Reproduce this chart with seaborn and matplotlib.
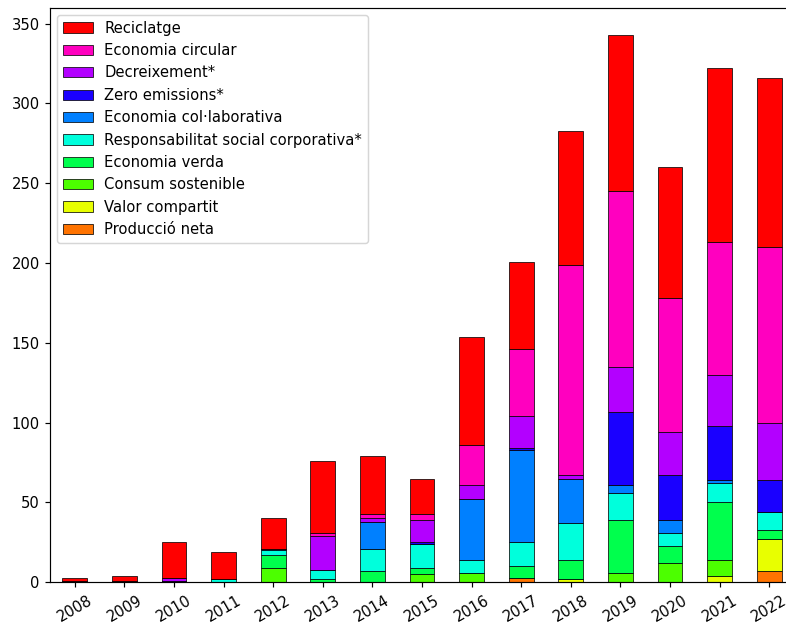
import numpy as np
import pandas as pd
import matplotlib
matplotlib.use("Agg")
import matplotlib.pyplot as plt
from matplotlib.patches import Patch
import seaborn as sns

years = [str(y) for y in range(2008, 2023)]

# stacking order (bottom -> top)
produccio_neta   = [0, 0, 0, 0, 0, 0, 0, 0, 0, 3, 0, 0, 0, 0, 7]
valor_compartit  = [0, 0, 0, 0, 0, 0, 0, 0, 0, 0, 2, 0, 0, 4, 20]
consum_sost      = [0, 0, 1, 0, 9, 0, 0, 5, 6, 0, 0, 6, 12, 10, 0]
economia_verda   = [0, 0, 0, 0, 8, 2, 7, 4, 0, 7, 12, 33, 11, 36, 6]
rsc              = [0, 0, 0, 2, 3, 6, 14, 15, 8, 15, 23, 17, 8, 12, 11]
colaborativa     = [0, 0, 0, 0, 1, 0, 17, 0, 38, 58, 28, 5, 8, 2, 0]
zero_emissions   = [0, 0, 0, 0, 0, 0, 0, 1, 0, 1, 0, 46, 28, 34, 20]
decreixement     = [1, 1, 2, 0, 0, 21, 2, 14, 9, 20, 2, 28, 27, 32, 36]
economia_circ    = [0, 0, 0, 0, 0, 2, 3, 4, 25, 42, 132, 110, 84, 83, 110]
reciclatge       = [2, 3, 22, 17, 19, 45, 36, 22, 68, 55, 84, 98, 82, 109, 106]

series_names = ["Producció neta", "Valor compartit", "Consum sostenible",
                "Economia verda", "Responsabilitat social corporativa*",
                "Economia col·laborativa", "Zero emissions*", "Decreixement*",
                "Economia circular", "Reciclatge"]
series_vals = [produccio_neta, valor_compartit, consum_sost, economia_verda, rsc,
               colaborativa, zero_emissions, decreixement, economia_circ, reciclatge]

colors = {
    "Reciclatge": "#ff0000",
    "Economia circular": "#ff00bf",
    "Decreixement*": "#b300ff",
    "Zero emissions*": "#1a00ff",
    "Economia col·laborativa": "#0080ff",
    "Responsabilitat social corporativa*": "#00ffdc",
    "Economia verda": "#00ff4d",
    "Consum sostenible": "#4cff00",
    "Valor compartit": "#e8ff00",
    "Producció neta": "#ff7300",
}

W, H = 786, 623
DPI = 106
fig = plt.figure(figsize=(W / DPI, H / DPI), dpi=DPI)
ax = fig.add_axes([50 / W, (H - 582.3) / H, 744 / W, (582.3 - 7.5) / H])

bottom = np.zeros(len(years))
for name, vals in zip(series_names, series_vals):
    df = pd.DataFrame({"year": years, "value": vals})
    sns.barplot(data=df, x="year", y="value", ax=ax, bottom=bottom,
                color=colors[name], width=0.5, edgecolor="black",
                linewidth=0.5, saturation=1, errorbar=None)
    bottom = bottom + np.array(vals)

ax.set_xlim(-0.5, len(years) - 0.5)
ax.set_ylim(0, bottom.max() * 1.05)
ax.set_xlabel("")
ax.set_ylabel("")
ax.set_yticks([0, 50, 100, 150, 200, 250, 300, 350])
plt.setp(ax.get_xticklabels(), rotation=30)
ax.tick_params(labelsize=10)

handles = [Patch(facecolor=colors[n], edgecolor="black", linewidth=0.5, label=n)
           for n in reversed(series_names)]
ax.legend(handles=handles, loc="upper left", fontsize=10)

fig.savefig("out.png", dpi=DPI)
